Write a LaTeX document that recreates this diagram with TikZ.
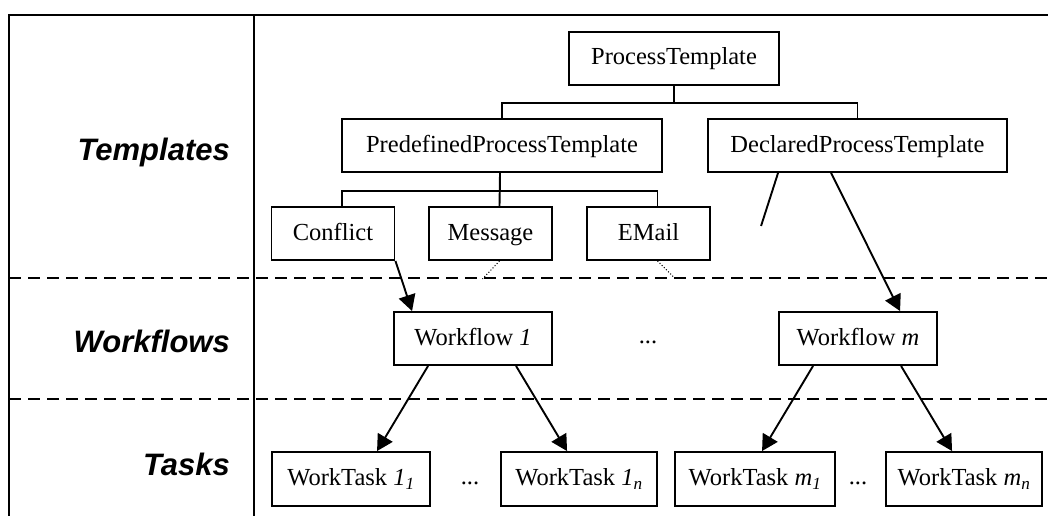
\documentclass[tikz,border=0pt]{standalone}
\usepackage{fontspec}
\setmainfont{Liberation Serif}
\newfontfamily\labelfont{Liberation Sans}
\usetikzlibrary{arrows.meta,calc}
\tikzset{
  box/.style={draw, line width=1.9pt, rectangle, inner sep=0pt, minimum height=53pt, text height=18pt, text depth=5pt, font=\fontsize{24.5}{28}\selectfont},
  sect/.style={anchor=base east, inner sep=0pt, font=\labelfont\bfseries\itshape\fontsize{31}{36}\selectfont},
  dots/.style={anchor=base, inner sep=0pt, font=\fontsize{24.5}{28}\selectfont},
  frame/.style={line width=2.2pt},
  sep/.style={line width=2pt, dash pattern=on 12pt off 7pt},
  conn/.style={line width=1.9pt},
  arr/.style={line width=1.9pt, -{Triangle[length=16pt,width=17pt]}},
  dot/.style={line width=1pt, dotted}
}
\begin{document}
\begin{tikzpicture}[x=1pt,y=-1pt]
\useasboundingbox (0,0) rectangle (1048,516);
% frame
\draw[frame] (1048,15) -- (9,15) -- (9,516);
\draw[frame] (254,15) -- (254,516);
\draw[sep] (9,278) -- (1048,278);
\draw[sep] (9,399) -- (1048,399);
% section labels
\node[sect] (lt) at (230,160) {Templates};
\node[sect] (lw) at (230,352) {Workflows};
\node[sect] (lk) at (230,475) {Tasks};
% boxes
\node[box, minimum width=210pt] (PT) at (674,58.5) {ProcessTemplate};
\node[box, minimum width=320pt] (PPT) at (502,145.5) {PredefinedProcessTemplate};
\node[box, minimum width=299pt] (DPT) at (857.5,145.5) {DeclaredProcessTemplate};
\node[box, minimum width=123pt] (CF) at (333,233.5) {Conflict};
\node[box, minimum width=123pt] (MS) at (490.5,233.5) {Message};
\node[box, minimum width=123pt] (EM) at (648.5,233.5) {EMail};
\node[box, minimum width=158pt] (WF1) at (473,338.5) {Workflow \textit{1}};
\node[box, minimum width=158pt] (WFm) at (858,338.5) {Workflow \textit{m}};
\node[box, minimum width=158pt, minimum height=54pt] (WT11) at (351,479) {WorkTask \textit{1}\textsubscript{\textit{1}}};
\node[box, minimum width=156pt, minimum height=54pt] (WT1n) at (579,479) {WorkTask \textit{1}\textsubscript{\textit{n}}};
\node[box, minimum width=160pt, minimum height=54pt] (WTm1) at (755,479) {WorkTask \textit{m}\textsubscript{\textit{1}}};
\node[box, minimum width=156pt, minimum height=54pt] (WTmn) at (964,479) {WorkTask \textit{m}\textsubscript{\textit{n}}};
% dots
\node[dots] (d1) at (648,343) {...};
\node[dots] (d2) at (470,484) {...};
\node[dots] (d3) at (858,484) {...};
% tree connectors
\draw[conn] (PT.south) -- ++(0,17) -| (PPT.north);
\draw[conn] (PT.south) -- ++(0,17) -| (DPT.north);
\draw[conn] ([xshift=-2pt]PPT.south) -- ++(0,18) -| ([xshift=9pt]CF.north);
\draw[conn] ([xshift=-2pt]PPT.south) -- ++(0,18) -| ([xshift=9pt]EM.north);
\draw[conn] ([xshift=-2pt]PPT.south) -- ([xshift=9pt]MS.north);
% dotted
\draw[dot] ([xshift=9pt]MS.south) -- ++(-17,18);
\draw[dot] ([xshift=9pt]EM.south) -- ++(18,18);
% declared
\draw[conn] ([xshift=71pt]DPT.south west) -- ++(-17,53);
\draw[arr] ([xshift=124pt]DPT.south west) -- ([xshift=122pt]WFm.north west);
% conflict
\draw[arr] (CF.south east) -- ([xshift=19pt]WF1.north west);
% workflows to tasks
\draw[arr] ([xshift=35pt]WF1.south west) -- ([xshift=106pt]WT11.north west);
\draw[arr] ([xshift=123pt]WF1.south west) -- ([xshift=67pt]WT1n.north west);
\draw[arr] ([xshift=35pt]WFm.south west) -- ([xshift=88pt]WTm1.north west);
\draw[arr] ([xshift=123pt]WFm.south west) -- ([xshift=67pt]WTmn.north west);
\end{tikzpicture}
\end{document}
